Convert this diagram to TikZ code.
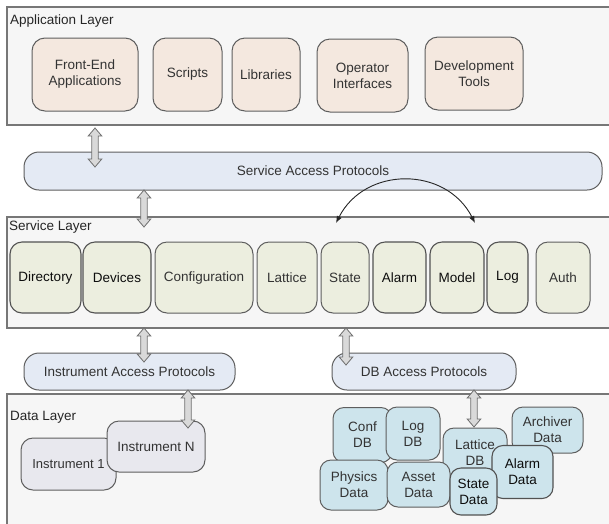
\documentclass[tikz,border=0pt]{standalone}
\usepackage{fontspec}
\setmainfont{Liberation Sans}
\usepackage{tikz}
\usetikzlibrary{arrows.meta,calc}
\definecolor{layerfill}{HTML}{F6F6F6}
\definecolor{layerline}{HTML}{777777}
\definecolor{boxline}{HTML}{5E5E5E}
\definecolor{appfill}{HTML}{F4E8DF}
\definecolor{protofill}{HTML}{E4EAF4}
\definecolor{servfill}{HTML}{ECEEDF}
\definecolor{instfill}{HTML}{E8E8EE}
\definecolor{dbfill}{HTML}{CDE4EC}
\definecolor{hollowfill}{HTML}{D9D9D9}
\definecolor{hollowline}{HTML}{6E6E6E}
\tikzset{boxsize/.style 2 args={minimum width=#1pt, minimum height=#2pt}}
\tikzstyle{Layer}=[shape=rectangle, fill=layerfill, draw=layerline, line width=1.2pt, inner sep=0pt]
\tikzstyle{LayerName}=[anchor=west, inner sep=0pt, text=black!85]
\tikzstyle{Box}=[shape=rectangle, rounded corners=13pt, draw=boxline, line width=1pt, inner sep=0pt, align=center, text=black!80]
\tikzstyle{AppBox}=[style=Box, fill=appfill]
\tikzstyle{Protocol}=[style=Box, fill=protofill, rounded corners=15pt]
\tikzstyle{Service}=[style=Box, fill=servfill, rounded corners=12pt]
\tikzstyle{ServiceDark}=[style=Service, draw=black!68, line width=1.1pt, text=black!95]
\tikzstyle{Instrument}=[style=Box, fill=instfill, rounded corners=12pt]
\tikzstyle{Store}=[style=Box, fill=dbfill, rounded corners=11pt]
\tikzstyle{StoreDark}=[style=Store, draw=black!68, line width=1.1pt, text=black!95]
\tikzstyle{hollow}=[draw=hollowline, fill=hollowfill, line width=0.8pt, to path={let \p1=(\tikztostart), \p2=(\tikztotarget) in (\x1,\y1) -- (\x1+6.8pt,\y1-8pt) -- (\x1+3.2pt,\y1-8pt) -- (\x1+3.2pt,\y2+8pt) -- (\x1+6.8pt,\y2+8pt) -- (\x1,\y2) -- (\x1-6.8pt,\y2+8pt) -- (\x1-3.2pt,\y2+8pt) -- (\x1-3.2pt,\y1-8pt) -- (\x1-6.8pt,\y1-8pt) -- cycle}]
\tikzstyle{swap}=[{Latex[length=7pt,width=5.5pt]}-{Latex[length=7pt,width=5.5pt]}, line width=0.9pt, draw=black!85]
\pgfdeclarelayer{nodelayer}
\pgfdeclarelayer{edgelayer}
\pgfsetlayers{nodelayer, edgelayer, main}

\begin{document}
\begin{tikzpicture}[x=1pt, y=-1pt, font=\fontsize{13.5}{16}\selectfont]
	\useasboundingbox (0,0) rectangle (609,523);
	\begin{pgfonlayer}{nodelayer}
		% layers
		\node [style=Layer, boxsize={604}{118}] (applayer) at (309, 66) {};
		\node [style=LayerName] (appname) at (10, 21) {Application Layer};
		\node [style=Layer, boxsize={604}{111}] (servlayer) at (309, 272.5) {};
		\node [style=LayerName] (servname) at (9, 227) {Service Layer};
		\node [style=Layer, boxsize={604}{136}] (datalayer) at (309, 462) {};
		\node [style=LayerName] (dataname) at (10, 417) {Data Layer};
		% applications
		\node [style=AppBox, boxsize={106}{73}] (frontend) at (85, 74.5) {Front-End\\Applications};
		\node [style=AppBox, boxsize={69}{73}] (scripts) at (187.5, 74.5) {Scripts};
		\node [style=AppBox, boxsize={68}{73}] (libraries) at (266, 74.5) {Libraries};
		\node [style=AppBox, boxsize={91}{73}] (operator) at (362.5, 75.5) {Operator\\Interfaces};
		\node [style=AppBox, boxsize={98}{73}] (devtools) at (474, 73.5) {Development\\Tools};
		% protocols
		\node [style=Protocol, boxsize={578}{38}] (sap) at (313, 171) {Service Access Protocols};
		\node [style=Protocol, boxsize={211}{37}] (iap) at (129.5, 371.5) {Instrument Access Protocols};
		\node [style=Protocol, boxsize={184}{37}] (dbap) at (424, 371.5) {DB Access Protocols};
		% services
		\node [style=ServiceDark, boxsize={71}{71}] (directory) at (45.5, 277.5) {Directory};
		\node [style=ServiceDark, boxsize={68}{71}] (devices) at (117, 277.5) {Devices};
		\node [style=Service, boxsize={98}{71}] (configuration) at (204, 277.5) {Configuration};
		\node [style=Service, boxsize={60}{71}] (lattice) at (287, 277.5) {Lattice};
		\node [style=Service, boxsize={48}{71}] (state) at (345, 277.5) {State};
		\node [style=ServiceDark, boxsize={53}{71}] (alarm) at (399.5, 277.5) {Alarm};
		\node [style=ServiceDark, boxsize={54}{71}] (model) at (457, 277.5) {Model};
		\node [style=ServiceDark, boxsize={41}{71}] (log) at (507.5, 277.5) {Log};
		\node [style=Service, boxsize={54}{71}] (auth) at (563, 277.5) {Auth};
		% instruments
		\node [style=Instrument, boxsize={95}{52}, font=\fontsize{13}{16}\selectfont] (instone) at (68.5, 464) {Instrument 1};
		\node [style=Instrument, boxsize={98}{51}] (instn) at (156, 446.5) {Instrument N};
		% databases
		\node [style=Store, boxsize={71}{46}] (archiver) at (547.5, 430) {Archiver\\Data};
		\node [style=Store, boxsize={64}{50}, text depth=0pt] (latticedb) at (475, 453) {Lattice\\DB};
		\node [style=Store, boxsize={59}{55}] (confdb) at (362.5, 435) {Conf\\DB};
		\node [style=Store, boxsize={54}{53}] (logdb) at (413, 433.5) {Log\\DB};
		\node [style=Store, boxsize={68}{50}] (physics) at (354, 485) {Physics\\Data};
		\node [style=Store, boxsize={63}{45}] (asset) at (418.5, 484.5) {Asset\\Data};
		\node [style=StoreDark, boxsize={61}{53}] (alarmdata) at (522.5, 472) {Alarm\\Data};
		\node [style=StoreDark, boxsize={47}{47}] (statedata) at (473.5, 491.5) {State\\Data};
	\end{pgfonlayer}
	\begin{pgfonlayer}{edgelayer}
		% access arrows
		\coordinate (appdown) at (95, 128);
		\coordinate (sapin) at (95, 167);
		\coordinate (sapdown) at (144, 190);
		\coordinate (servin) at (144, 227);
		\coordinate (servleft) at (144, 328);
		\coordinate (iapin) at (144, 362);
		\coordinate (servright) at (346, 328);
		\coordinate (dbapin) at (346, 365);
		\coordinate (iapdown) at (188, 390);
		\coordinate (instin) at (188, 428);
		\coordinate (dbapdown) at (474, 390);
		\coordinate (dbin) at (474, 427);
		\draw [style=hollow] (appdown) to (sapin);
		\draw [style=hollow] (sapdown) to (servin);
		\draw [style=hollow] (servleft) to (iapin);
		\draw [style=hollow] (servright) to (dbapin);
		\draw [style=hollow] (iapdown) to (instin);
		\draw [style=hollow] (dbapdown) to (dbin);
		% state <-> model
		\coordinate (stateend) at (336, 223);
		\coordinate (modelend) at (475, 223);
		\draw [style=swap] (stateend) .. controls +(29,-57) and +(-29,-57) .. (modelend);
	\end{pgfonlayer}
\end{tikzpicture}
\end{document}
